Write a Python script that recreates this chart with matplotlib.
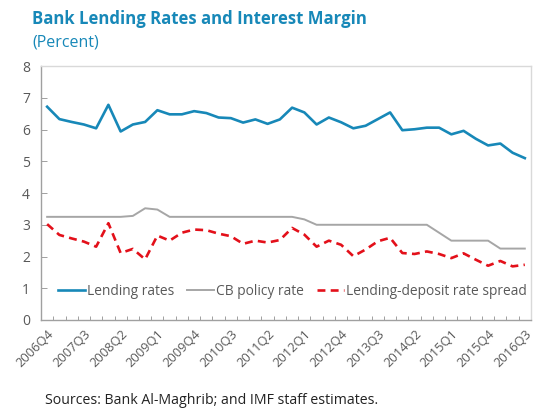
import matplotlib
matplotlib.use("Agg")
import matplotlib.pyplot as plt
import numpy as np

# ── Data ──────────────────────────────────────────────────────────────────────
quarters = [f"{y}Q{q}" for y in range(2006, 2017) for q in range(1, 5)]
quarters = quarters[quarters.index("2006Q4"):quarters.index("2016Q3") + 1]

lending_rates = [6.72, 6.33, 6.24, 6.16, 6.04, 6.78, 5.94, 6.16, 6.24, 6.61,
                 6.48, 6.48, 6.58, 6.52, 6.38, 6.36, 6.22, 6.32, 6.18, 6.32,
                 6.69, 6.54, 6.16, 6.38, 6.23, 6.04, 6.12, 6.33, 6.54, 5.98,
                 6.01, 6.06, 6.06, 5.85, 5.96, 5.71, 5.50, 5.56, 5.27, 5.10]

cb_policy_rate = [3.25, 3.25, 3.25, 3.25, 3.25, 3.25, 3.25, 3.28, 3.52, 3.48,
                  3.25, 3.25, 3.25, 3.25, 3.25, 3.25, 3.25, 3.25, 3.25, 3.25,
                  3.25, 3.17, 3.00, 3.00, 3.00, 3.00, 3.00, 3.00, 3.00, 3.00,
                  3.00, 3.00, 2.75, 2.50, 2.50, 2.50, 2.50, 2.25, 2.25, 2.25]

spread = [3.02, 2.68, 2.57, 2.47, 2.31, 3.05, 2.11, 2.24, 1.91, 2.66,
          2.50, 2.75, 2.85, 2.83, 2.72, 2.64, 2.40, 2.50, 2.44, 2.52,
          2.90, 2.69, 2.31, 2.50, 2.37, 2.01, 2.22, 2.48, 2.59, 2.11,
          2.08, 2.16, 2.08, 1.95, 2.10, 1.90, 1.71, 1.86, 1.69, 1.74]

tick_labels = quarters[::3]

# ── Style ─────────────────────────────────────────────────────────────────────
BLUE = "#1788b8"
GREY = "#a6a6a6"
RED = "#e3101a"
TEXT = "#595959"

plt.rcParams["font.family"] = ["Open Sans", "DejaVu Sans"]

fig = plt.figure(figsize=(5.44, 4.08), dpi=100, facecolor="white")
ax = fig.add_axes([0.0754, 0.2157, 0.9006, 0.6223])

x = np.arange(len(quarters))
ax.plot(x, lending_rates, color=BLUE, lw=1.9, label="Lending rates", zorder=3)
ax.plot(x, cb_policy_rate, color=GREY, lw=1.4, label="CB policy rate", zorder=2)
ax.plot(x, spread, color=RED, lw=1.9, ls=(0, (3, 2)), label="Lending-deposit rate spread", zorder=3)

ax.set_xlim(-0.5, len(quarters) - 0.5)
ax.set_ylim(0, 8)
ax.set_yticks(range(0, 9))

# category boundary ticks on x
ax.set_xticks(np.arange(-0.5, len(quarters), 1.0))
ax.set_xticklabels([])
ax.set_xticks(x[::3], minor=True)
ax.set_xticklabels(tick_labels, minor=True, rotation=45, ha="right",
                   rotation_mode="anchor", fontsize=9.3, color=TEXT)
ax.tick_params(axis="x", which="major", direction="in", length=3, width=0.7, color="#a0a0a0")
ax.tick_params(axis="x", which="minor", length=0, pad=5)
ax.tick_params(axis="y", direction="in", length=4, width=0.7, color="#a0a0a0",
               labelsize=10, labelcolor=TEXT, pad=8)

for s in ("left", "bottom"):
    ax.spines[s].set_color("#a0a0a0")
    ax.spines[s].set_linewidth(1.0)
for s in ("top", "right"):
    ax.spines[s].set_color("#d9d9d9")
    ax.spines[s].set_linewidth(1.0)

ax.legend(loc="lower center", bbox_to_anchor=(0.513, 0.035), ncol=3, frameon=False,
          fontsize=9.9, labelcolor=TEXT, handlelength=2.0, handletextpad=0.15,
          columnspacing=0.9)

fig.text(0.059, 0.953, "Bank Lending Rates and Interest Margin", color=BLUE,
         fontsize=12.1, fontweight="bold", ha="left", va="center")
fig.text(0.059, 0.895, "(Percent)", color=BLUE, fontsize=11.5, ha="left", va="center")
fig.text(0.083, 0.018, "Sources: Bank Al-Maghrib; and IMF staff estimates.",
         color="#222222", fontsize=10.2, ha="left", va="center")

fig.savefig("out.png", dpi=100, facecolor="white")
